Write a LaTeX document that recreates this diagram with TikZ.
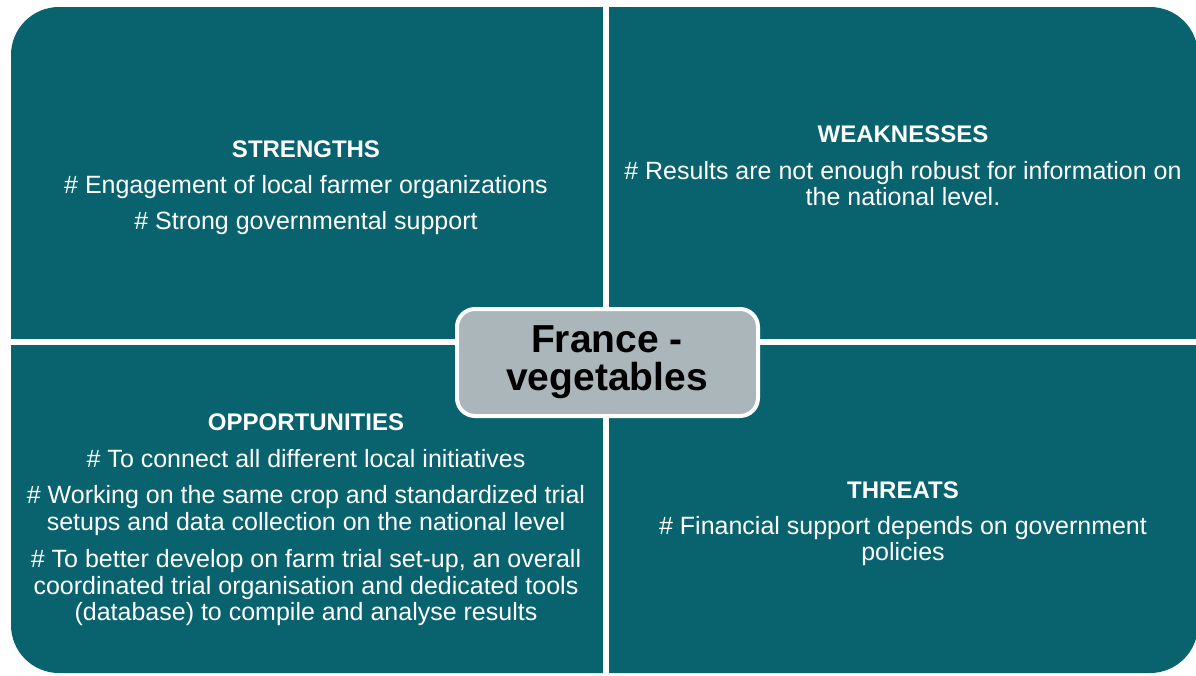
\documentclass[tikz,border=0pt]{standalone}
\usepackage{fontspec}
\setmainfont{Liberation Sans}
\definecolor{quad}{RGB}{8,99,111}
\definecolor{centerfill}{RGB}{170,182,185}
\begin{document}
\begin{tikzpicture}[x=1pt,y=-1pt,
  hdr/.style={anchor=base,inner sep=0pt,text=white,font=\fontsize{24}{27}\selectfont\bfseries},
  txt/.style={anchor=base,inner sep=0pt,text=white,font=\fontsize{25}{27}\selectfont},
  ctr/.style={anchor=base,inner sep=0pt,text=black,font=\fontsize{39}{40}\selectfont\bfseries}]
\useasboundingbox (0,0) rectangle (1196,675);
\fill[white] (0,0) rectangle (1196,675);
% quadrants
\fill[quad,rounded corners=48pt] (11,7) rectangle (1198,673);
\fill[white] (603,0) rectangle (609,675);
\fill[white] (0,339) rectangle (1198,345);
% centre box
\node[draw=white,line width=4pt,fill=centerfill,rounded corners=18pt,
  minimum width=301pt,minimum height=107pt,inner sep=0pt] (box) at (607.5,362.5) {};
\node[ctr] (c1) at (607,352) {France -};
\node[ctr] (c2) at (607,390) {vegetables};
% strengths
\node[hdr] (s0) at (306,157) {STRENGTHS};
\node[txt] (s1) at (306,193) {\# Engagement of local farmer organizations};
\node[txt] (s2) at (306,229) {\# Strong governmental support};
% weaknesses
\node[hdr] (w0) at (903,142) {WEAKNESSES};
\node[txt] (w1) at (903,179) {\# Results are not enough robust for information on};
\node[txt] (w2) at (903,205) {the national level.};
% opportunities
\node[hdr] (o0) at (306,430) {OPPORTUNITIES};
\node[txt] (o1) at (306,467) {\# To connect all different local initiatives};
\node[txt] (o2) at (306,503) {\# Working on the same crop and standardized trial};
\node[txt] (o3) at (306,530) {setups and data collection on the national level};
\node[txt] (o4) at (306,567) {\# To better develop on farm trial set-up, an overall};
\node[txt] (o5) at (306,594) {coordinated trial organisation and dedicated tools};
\node[txt] (o6) at (306,620) {(database) to compile and analyse results};
% threats
\node[hdr] (t0) at (903,498) {THREATS};
\node[txt] (t1) at (903,534) {\# Financial support depends on government};
\node[txt] (t2) at (903,560) {policies};
\end{tikzpicture}
\end{document}
